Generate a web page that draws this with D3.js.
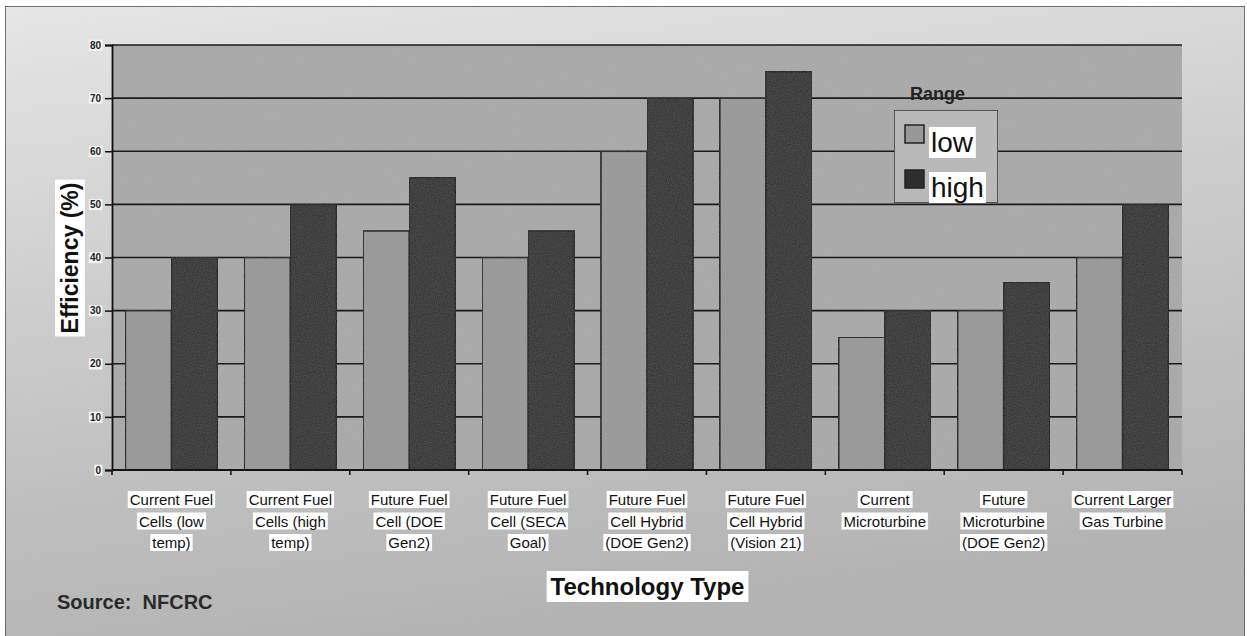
<!DOCTYPE html>
<html><head><meta charset="utf-8">
<script src="https://cdn.jsdelivr.net/npm/d3@7"></script>
<style>html,body{margin:0;padding:0;background:#fff;}svg{display:block;}</style>
</head><body>
<svg id="chart" width="1247" height="636"></svg>
<script>
const categories = [
  ["Current Fuel","Cells (low","temp)"],
  ["Current Fuel","Cells (high","temp)"],
  ["Future Fuel","Cell (DOE","Gen2)"],
  ["Future Fuel","Cell (SECA","Goal)"],
  ["Future Fuel","Cell Hybrid","(DOE Gen2)"],
  ["Future Fuel","Cell Hybrid","(Vision 21)"],
  ["Current","Microturbine"],
  ["Future","Microturbine","(DOE Gen2)"],
  ["Current Larger","Gas Turbine"]
];
const seriesNames = ["low","high"];
const lowValues  = [30, 40, 45, 40, 60, 70, 25, 30, 40];
const highValues = [40, 50, 55, 45, 70, 75, 30, 35.3, 50];
const yTicks = [0,10,20,30,40,50,60,70,80];

const svg = d3.select("#chart");
const W = 1247, H = 636;
const plot = {l:112, r:1182, t:45, b:470};
const FONT = "Arial, 'Liberation Sans', sans-serif";

const defs = svg.append("defs");
const bg = defs.append("linearGradient").attr("id","bg").attr("x1","0").attr("y1","0").attr("x2","0.25").attr("y2","1");
bg.append("stop").attr("offset","0%").attr("stop-color","#e8e8e8");
bg.append("stop").attr("offset","55%").attr("stop-color","#c9c9c9");
bg.append("stop").attr("offset","100%").attr("stop-color","#b3b3b3");
const f = defs.append("filter").attr("id","grain").attr("x","0").attr("y","0").attr("width","1").attr("height","1");
f.append("feTurbulence").attr("type","fractalNoise").attr("baseFrequency","0.9").attr("numOctaves","2").attr("seed","3").attr("result","n");
f.append("feColorMatrix").attr("in","n").attr("type","matrix")
 .attr("values","0 0 0 0 0.5  0 0 0 0 0.5  0 0 0 0 0.5  0 0 0 0.12 0").attr("result","g");
f.append("feComposite").attr("in","g").attr("in2","SourceGraphic").attr("operator","in").attr("result","g2");
f.append("feMerge").call(m=>{m.append("feMergeNode").attr("in","SourceGraphic");m.append("feMergeNode").attr("in","g2");});

// outer chart area
svg.append("rect").attr("x",5).attr("y",6).attr("width",1240).attr("height",640)
  .attr("fill","url(#bg)").attr("stroke","#444").attr("stroke-width",1.5).attr("filter","url(#grain)");

const x = d3.scaleBand().domain(d3.range(categories.length)).range([plot.l, plot.r]).paddingInner(0).paddingOuter(0);
const xs = d3.scaleBand().domain(seriesNames).range([0, x.bandwidth()]).paddingInner(0).paddingOuter(0.29);
const y = d3.scaleLinear().domain([0,80]).range([plot.b, plot.t]);

// plot area
svg.append("rect").attr("x",plot.l).attr("y",plot.t).attr("width",plot.r-plot.l).attr("height",plot.b-plot.t)
  .attr("fill","#a9a9a9").attr("filter","url(#grain)");

// gridlines
svg.append("g").selectAll("line").data(yTicks.filter(d=>d>0)).join("line")
  .attr("x1",plot.l).attr("x2",plot.r).attr("y1",d=>y(d)).attr("y2",d=>y(d))
  .attr("stroke","#1a1a1a").attr("stroke-width",1.6);

// bars
const data = categories.map((c,i)=>({i, vals:[{s:"low",v:lowValues[i]},{s:"high",v:highValues[i]}]}));
const colors = {low:"#989898", high:"#2e2e2e"};
const gb = svg.append("g");
gb.selectAll("g").data(data).join("g").attr("transform",d=>`translate(${x(d.i)},0)`)
  .selectAll("rect").data(d=>d.vals).join("rect")
  .attr("x",d=>xs(d.s)).attr("width",xs.bandwidth())
  .attr("y",d=>y(d.v)).attr("height",d=>y(0)-y(d.v))
  .attr("fill",d=>colors[d.s]).attr("stroke","#111").attr("stroke-width",1.6).attr("filter","url(#grain)");

// y axis
const yAxis = d3.axisLeft(y).tickValues(yTicks).tickSize(7).tickPadding(4).tickFormat(d3.format("d"));
const ya = svg.append("g").attr("transform",`translate(${plot.l},0)`).call(yAxis);
ya.select(".domain").attr("stroke","#111").attr("stroke-width",1.8);
ya.selectAll(".tick line").attr("stroke","#111").attr("stroke-width",1.5);
ya.selectAll(".tick text").attr("font-family",FONT).attr("font-size",10).attr("font-weight","bold").attr("fill","#222");
ya.selectAll(".tick").each(function(){
  const t = d3.select(this).select("text");
  const bb = t.node().getBBox();
  d3.select(this).insert("rect","text").attr("x",bb.x-1).attr("y",bb.y).attr("width",bb.width+2).attr("height",bb.height)
    .attr("fill","#f4f4f4");
});

// x axis
svg.append("line").attr("x1",plot.l).attr("x2",plot.r).attr("y1",plot.b).attr("y2",plot.b)
  .attr("stroke","#111").attr("stroke-width",1.8);
const bounds = d3.range(categories.length+1).map(i=> i<categories.length ? x(i) : plot.r);
svg.append("g").selectAll("line").data(bounds).join("line")
  .attr("x1",d=>d).attr("x2",d=>d).attr("y1",plot.b).attr("y2",plot.b+5)
  .attr("stroke","#111").attr("stroke-width",1.5);

// category labels with white boxes
function boxedText(g, txt, cx, baseline, size, weight, opts={}) {
  const t = g.append("text").attr("x",cx).attr("y",baseline).attr("text-anchor",opts.anchor||"middle")
    .attr("font-family",FONT).attr("font-size",size).attr("font-weight",weight).attr("fill",opts.fill||"#111").text(txt);
  const bb = t.node().getBBox();
  const px = opts.px==null?1:opts.px, py = opts.py==null?0:opts.py;
  g.insert("rect","text").attr("x",bb.x-px).attr("y",bb.y-py).attr("width",bb.width+2*px).attr("height",bb.height+2*py).attr("fill","#fff");
  return t;
}
categories.forEach((lines,i)=>{
  lines.forEach((ln,k)=>{
    const g = svg.append("g");
    boxedText(g, ln, x(i)+x.bandwidth()/2, 505 + k*21.5, 15, "normal", {px:2});
  });
});

// axis titles
{
  const g = svg.append("g");
  boxedText(g, "Technology Type", (plot.l+plot.r)/2 + 0.5, 595, 24, "bold", {px:4, py:2});
}
{
  const g = svg.append("g").attr("transform","translate(78,258) rotate(-90)");
  boxedText(g, "Efficiency (%)", 0, 0, 23, "bold", {px:3, py:2});
}
svg.append("text").attr("x",57).attr("y",609).attr("font-family",FONT).attr("font-size",20).attr("font-weight","bold")
  .attr("fill","#2a2a2a").attr("xml:space","preserve").text("Source:  NFCRC");

// legend
svg.append("text").attr("x",910).attr("y",100).attr("font-family",FONT).attr("font-size",18).attr("font-weight","bold")
  .attr("fill","#222").text("Range");
svg.append("rect").attr("x",894).attr("y",110).attr("width",104).attr("height",93)
  .attr("fill","#b9b9b9").attr("stroke","#222").attr("stroke-width",1.5).attr("filter","url(#grain)");
const legY = {low:[125,152], high:[170,197]};
seriesNames.forEach(s=>{
  svg.append("rect").attr("x",905).attr("y",legY[s][0]).attr("width",19).attr("height",18)
    .attr("fill",colors[s]).attr("stroke","#222").attr("stroke-width",1.5);
  const g = svg.append("g");
  boxedText(g, s, 931, legY[s][1], 28, "normal", {anchor:"start", px:2});
});
</script>
</body></html>
